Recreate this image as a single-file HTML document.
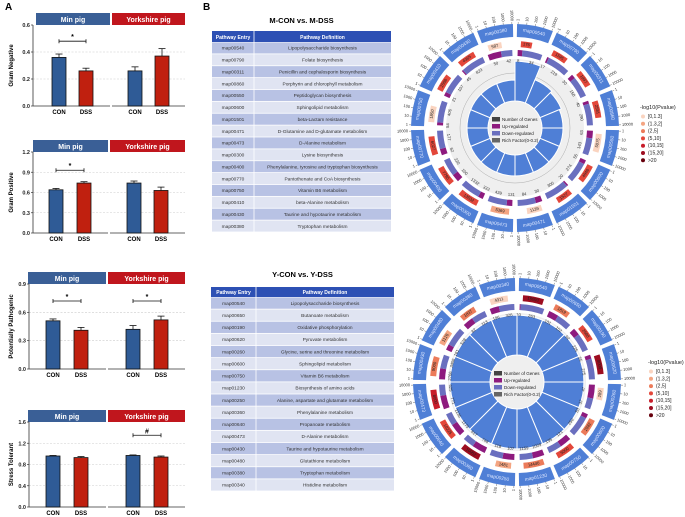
<!DOCTYPE html>
<html><head><meta charset="utf-8">
<style>
html,body{margin:0;padding:0;background:#fff;}
svg{display:block;font-family:"Liberation Sans",Arial,sans-serif;}
</style></head>
<body>
<svg id="fig" width="685" height="517" viewBox="0 0 685 517" xmlns="http://www.w3.org/2000/svg">
<text x="5" y="10" font-size="10" font-weight="bold">A</text>
<text x="203" y="10" font-size="10" font-weight="bold">B</text>
<g id="panelA"></g>
<g id="tables"></g>
<g id="circ1"></g>
<g id="circ2"></g>
</svg>
<script>
// ---------- Panel A data ----------
const barLabels = ["CON","DSS","CON","DSS"];
const gnMean = [0.36,0.26,0.26,0.37];
const gnErr  = [0.025,0.02,0.03,0.055];
const gpMean = [0.64,0.74,0.74,0.63];
const gpErr  = [0.02,0.02,0.03,0.05];
const ppMean = [0.51,0.41,0.42,0.52];
const ppErr  = [0.02,0.03,0.04,0.04];
const stMean = [0.96,0.93,0.97,0.94];
const stErr  = [0.01,0.02,0.01,0.02];
const gnTicks = [0,0.2,0.4,0.6];
const gpTicks = [0,0.3,0.6,0.9,1.2];
const ppTicks = [0,0.3,0.6,0.9];
const stTicks = [0,0.4,0.8,1.2,1.6];
// ---------- Circos data ----------
const sectors1 = ["map00540","map00790","map00311","map00860","map00550","map00600","map01501","map00471","map00473","map00300","map00400","map00770","map00750","map00410","map00430","map00380"];
const rich1 = [0.19,0.12,0.11,0.10,0.10,0.10,0.10,0.10,0.10,0.10,0.10,0.10,0.10,0.10,0.10,0.10];
const up1   = [8,17,30,40,63,55,20,30,131,333,100,62,54,21,45,50];
const down1 = [34,219,150,290,143,274,300,84,439,1332,220,177,406,107,823,42];
const count1 = [176,1595,1997,2581,5075,4046,1527,1139,5369,13532,7795,6027,1850,2506,4365,587];
const plev1 = [3,3,3,3,0,3,3,0,1,3,3,3,0,3,3,0];
const sectors2 = ["map00540","map00650","map00190","map00620","map00260","map00600","map00750","map01230","map00250","map00360","map00640","map00473","map00430","map00480","map00380","map00340"];
const rich2 = [0.19,0.19,0.19,0.19,0.19,0.19,0.19,0.19,0.19,0.19,0.19,0.19,0.19,0.19,0.19,0.19];
const up2   = [10,101,92,55,47,53,121,1009,107,748,1173,771,2766,161,82,196];
const down2 = [263,152,226,275,37,250,135,1159,118,617,1135,625,3456,528,113,326];
const count2 = [15093,1819,2688,8000,289,2882,5000,14440,1481,10052,10225,8000,9000,1126,1837,4311];
const plev2 = [5,2,3,5,0,2,3,2,1,5,3,4,2,1,2,0];
const legendLabels = ["[0,1.3]","(1.3,2]","(2,5]","(5,10]","(10,15]","(15,20]",">20"];
const pColors = ["#fad4c0","#f4a582","#ec7b5a","#e3473a","#c81d2a","#9d0d20","#67000d"];

const NS="http://www.w3.org/2000/svg";
function mk(parent,tag,attrs,text){const e=document.createElementNS(NS,tag);for(const k in attrs)e.setAttribute(k,attrs[k]);if(text!==undefined)e.textContent=text;parent.appendChild(e);return e;}

// ---------- Panel A ----------
const A=document.getElementById('panelA');
function barChart(cfg){
  const g=mk(A,'g',{});
  
  
  const max=cfg.ticks[cfg.ticks.length-1];
  const y=v=>cfg.y0-(v/max)*(cfg.y0-cfg.y1);
  // headers
  const h1=mk(g,'rect',{x:cfg.hx[0],y:cfg.y1-12,width:cfg.hx[1]-cfg.hx[0],height:12,fill:'#3a5f96'});
  
  
  mk(g,'text',{x:(cfg.hx[0]+cfg.hx[1])/2,y:cfg.y1-3,'font-size':7,'font-weight':'bold',fill:'#fff','text-anchor':'middle'},'Min pig');
  const h2=mk(g,'rect',{x:cfg.hx[2],y:cfg.y1-12,width:cfg.hx[3]-cfg.hx[2],height:12,fill:'#c0161d'});
  
  
  mk(g,'text',{x:(cfg.hx[2]+cfg.hx[3])/2,y:cfg.y1-3,'font-size':7,'font-weight':'bold',fill:'#fff','text-anchor':'middle'},'Yorkshire pig');
  // grid
  cfg.ticks.forEach((t,i)=>{
    if(i>0&&i<cfg.ticks.length-1) mk(g,'line',{x1:cfg.ax,x2:cfg.hx[3],y1:y(t),y2:y(t),stroke:'#ccc','stroke-width':0.6,'stroke-dasharray':'2,1.5'});
    mk(g,'line',{x1:cfg.ax-2,x2:cfg.ax,y1:y(t),y2:y(t),stroke:'#333','stroke-width':0.7});
    const tl=mk(g,'text',{x:cfg.ax-3,y:y(t)+2,'font-size':5.5,'font-weight':'bold','text-anchor':'end',fill:'#222'},t.toFixed(1));
    
    
  });
  mk(g,'line',{x1:cfg.ax,x2:cfg.ax,y1:cfg.y1,y2:cfg.y0,stroke:'#333','stroke-width':0.8});
  mk(g,'line',{x1:cfg.ax,x2:cfg.hx[1],y1:cfg.y0,y2:cfg.y0,stroke:'#333','stroke-width':0.8});
  mk(g,'line',{x1:cfg.hx[2],x2:cfg.hx[3],y1:cfg.y0,y2:cfg.y0,stroke:'#333','stroke-width':0.8});
  const yl=mk(g,'text',{x:0,y:0,'font-size':6,'font-weight':'bold','text-anchor':'middle',transform:`translate(13,${(cfg.y0+cfg.y1)/2}) rotate(-90)`},cfg.title);
  
  
  cfg.mean.forEach((m,i)=>{
    const cx=cfg.bx[i];
    const b=mk(g,'rect',{x:cx-7,y:y(m),width:14,height:cfg.y0-y(m),fill:i%2?'#c0200f':'#2f5b96',stroke:'#111','stroke-width':0.8});
    
    
    const te=y(m+cfg.err[i]);
    mk(g,'line',{x1:cx,x2:cx,y1:y(m),y2:te,stroke:'#111','stroke-width':0.8});
    mk(g,'line',{x1:cx-3.5,x2:cx+3.5,y1:te,y2:te,stroke:'#111','stroke-width':0.8});
    const xl=mk(g,'text',{x:cx,y:cfg.y0+8,'font-size':6,'font-weight':'bold','text-anchor':'middle'},barLabels[i]);
    
    
  });
  cfg.sig.forEach(s=>{
    const yy=y(s.v), x1=cfg.bx[s.i], x2=cfg.bx[s.i+1];
    mk(g,'line',{x1,x2,y1:yy,y2:yy,stroke:'#111','stroke-width':0.8});
    mk(g,'line',{x1,x2:x1,y1:yy-2,y2:yy+2,stroke:'#111','stroke-width':0.8});
    mk(g,'line',{x1:x2,x2,y1:yy-2,y2:yy+2,stroke:'#111','stroke-width':0.8});
    const st=mk(g,'text',{x:(x1+x2)/2,y:yy-2,'font-size':7,'font-weight':'bold','text-anchor':'middle'},s.t);
    
    
  });
}
barChart({name:'gram-negative-chart',title:'Gram Negative',mean:gnMean,err:gnErr,ticks:gnTicks,y0:106,y1:25,ax:33,hx:[36,110,112,185],bx:[59,86,135,162],sig:[{i:0,v:0.48,t:'*'}]});
barChart({name:'gram-positive-chart',title:'Gram Positive',mean:gpMean,err:gpErr,ticks:gpTicks,y0:233,y1:152,ax:33,hx:[33,108,110,185],bx:[56,84,134,161],sig:[{i:0,v:0.93,t:'*'}]});
barChart({name:'pathogenic-chart',title:'Potentially Pathogenic',mean:ppMean,err:ppErr,ticks:ppTicks,y0:369,y1:284,ax:29,hx:[28,106,108,185],bx:[53,81,133,161],sig:[{i:0,v:0.72,t:'*'},{i:2,v:0.72,t:'*'}]});
barChart({name:'stress-tolerant-chart',title:'Stress Tolerant',mean:stMean,err:stErr,ticks:stTicks,y0:507,y1:422,ax:29,hx:[28,106,108,185],bx:[53,81,133,161],sig:[{i:2,v:1.35,t:'#'}]});

// ---------- Tables ----------
const defs1=["Lipopolysaccharide biosynthesis","Folate biosynthesis","Penicillin and cephalosporin biosynthesis","Porphyrin and chlorophyll metabolism","Peptidoglycan biosynthesis","Sphingolipid metabolism","beta-Lactam resistance","D-Glutamine and D-glutamate metabolism","D-Alanine metabolism","Lysine biosynthesis","Phenylalanine, tyrosine and tryptophan biosynthesis","Pantothenate and CoA biosynthesis","Vitamin B6 metabolism","beta-Alanine metabolism","Taurine and hypotaurine metabolism","Tryptophan metabolism"];
const defs2=["Lipopolysaccharide biosynthesis","Butanoate metabolism","Oxidative phosphorylation","Pyruvate metabolism","Glycine, serine and threonine metabolism","Sphingolipid metabolism","Vitamin B6 metabolism","Biosynthesis of amino acids","Alanine, aspartate and glutamate metabolism","Phenylalanine metabolism","Propanoate metabolism","D-Alanine metabolism","Taurine and hypotaurine metabolism","Glutathione metabolism","Tryptophan metabolism","Histidine metabolism"];
const T=document.getElementById('tables');
function table(title,ty,x0,xs,x1,hy0,hy1,yEnd,ids,defs,nm){
  const g=mk(T,'g',{});
  
  
  mk(g,'text',{x:(x0+x1)/2,y:ty,'font-size':7.5,'font-weight':'bold','text-anchor':'middle'},title);
  mk(g,'rect',{x:x0,y:hy0,width:x1-x0,height:hy1-hy0,fill:'#2d50b4'});
  mk(g,'line',{x1:xs,x2:xs,y1:hy0,y2:hy1,stroke:'#fff','stroke-width':0.8});
  mk(g,'text',{x:(x0+xs)/2,y:hy1-3,'font-size':5,'font-weight':'bold',fill:'#fff','text-anchor':'middle'},'Pathway Entry');
  mk(g,'text',{x:(xs+x1)/2,y:hy1-3,'font-size':5,'font-weight':'bold',fill:'#fff','text-anchor':'middle'},'Pathway Definition');
  const rh=(yEnd-hy1)/ids.length;
  ids.forEach((id,i)=>{
    const y=hy1+i*rh;
    const r=mk(g,'rect',{x:x0,y:y+0.4,width:x1-x0,height:rh-0.8,fill:i%2?'#e0e4f2':'#b8c2e4'});
    
    
    mk(g,'line',{x1:xs,x2:xs,y1:y,y2:y+rh,stroke:'#fff','stroke-width':0.8});
    mk(g,'text',{x:(x0+xs)/2,y:y+rh/2+1.8,'font-size':4.8,fill:'#333','text-anchor':'middle'},id);
    mk(g,'text',{x:(xs+x1)/2,y:y+rh/2+1.8,'font-size':4.8,fill:'#333','text-anchor':'middle'},defs[i]);
  });
}
table('M-CON vs. M-DSS',23,212,254,391,31,42,232,sectors1,defs1,'table-m');
table('Y-CON vs. Y-DSS',277,211,256,394,287,297,491,sectors2,defs2,'table-y');

// ---------- Circos ----------
function pol(cx,cy,r,a){return [cx+r*Math.sin(a),cy-r*Math.cos(a)];}
function arc(cx,cy,r0,r1,a0,a1){
  const p=(r,a)=>pol(cx,cy,r,a).map(v=>v.toFixed(2)).join(',');
  const lg=(a1-a0)>Math.PI?1:0;
  return `M${p(r1,a0)}A${r1},${r1} 0 ${lg} 1 ${p(r1,a1)}L${p(r0,a1)}A${r0},${r0} 0 ${lg} 0 ${p(r0,a0)}Z`;
}
function circos(gid,cx,cy,ids,rich,up,down,count,plev,lx,ly){
  const g=document.getElementById(gid);
  const n=ids.length, step=2*Math.PI/n, gap=0.035;
  const rIn=27,rGrey=69;
  mk(g,'path',{d:arc(cx,cy,rIn,rGrey,0,2*Math.PI-0.0001),fill:'#efefef'});
  [40,55].forEach(r=>mk(g,'circle',{cx,cy,r,fill:'none',stroke:'#999','stroke-width':0.4}));
  const rScale=v=>rIn+(v/0.2)*(rGrey-rIn);
  for(let i=0;i<n;i++){
    const a0=i*step,a1=(i+1)*step;
    const bar=mk(g,'path',{d:arc(cx,cy,rIn,rScale(rich[i]),a0,a1),fill:'#4f7fd6',stroke:'#fff','stroke-width':1});
    
    
    // up/down ring
    const tot=up[i]+down[i], am=a0+gap+(a1-a0-2*gap)*up[i]/tot;
    const ub=mk(g,'path',{d:arc(cx,cy,72,78,a0+gap,am),fill:'#8e1a7e'});
    
    
    const db=mk(g,'path',{d:arc(cx,cy,72,78,am,a1-gap),fill:'#6a6fbf'});
    
    
    // numbers
    [[up[i],(a0+am)/2],[down[i],(am+a1)/2]].forEach(([v,a])=>{
      const [x,y]=pol(cx,cy,67,a);
      let deg=a*180/Math.PI; if(deg>90&&deg<270) deg-=180;
      mk(g,'text',{x,y,'font-size':4.2,'text-anchor':'middle','dominant-baseline':'middle',fill:'#333',transform:`rotate(${deg} ${x} ${y})`},v);
    });
    // pvalue ring
    const frac=Math.min(1,Math.log10(count[i])/4.3);
    const pb=mk(g,'path',{d:arc(cx,cy,81,87,a0+gap*2,a0+gap*2+(a1-a0-4*gap)*frac),fill:pColors[plev[i]]});
    
    
    {const a=a0+gap*2+(a1-a0-4*gap)*frac/2;const [x,y]=pol(cx,cy,84,a);let deg=a*180/Math.PI-90; if(a>Math.PI) deg+=180; deg=a*180/Math.PI; if(deg>90&&deg<270) deg-=180;
      mk(g,'text',{x,y,'font-size':4.2,'text-anchor':'middle','dominant-baseline':'middle',fill:'#222',transform:`rotate(${deg} ${x} ${y})`},count[i]);}
    // label ring
    const lb=mk(g,'path',{d:arc(cx,cy,91,104,a0+0.02,a1-0.02),fill:'#4f7fd6'});
    
    
    {const a=(a0+a1)/2;const [x,y]=pol(cx,cy,97.5,a);let deg=a*180/Math.PI; if(deg>90&&deg<270) deg-=180;
      mk(g,'text',{x,y,'font-size':4.8,'text-anchor':'middle','dominant-baseline':'middle',fill:'#dfe8ff',transform:`rotate(${deg} ${x} ${y})`},ids[i]);}
    // ticks
    ["1","10","100","1000","10000"].forEach((t,k)=>{
      const a=a0+0.03+k*(a1-a0-0.06)/4;
      const [x1,y1]=pol(cx,cy,104,a),[x2,y2]=pol(cx,cy,106,a);
      mk(g,'line',{x1,y1,x2,y2,stroke:'#444','stroke-width':0.4});
      const [x,y]=pol(cx,cy,107,a);
      let deg=a*180/Math.PI-90, anchor='start';
      if(a>Math.PI){deg+=180;anchor='end';}
      mk(g,'text',{x,y,'font-size':4,'text-anchor':anchor,'dominant-baseline':'middle',fill:'#333',transform:`rotate(${deg} ${x} ${y})`},t);
    });
  }
  // center legend
  const cl=[['#444','Number of Genes'],['#8e1a7e','Up-regulated'],['#6a6fbf','Down-regulated'],['#666','Rich Factor(0-0.2)']];
  cl.forEach((c,k)=>{
    const y=cy-11+k*7;
    mk(g,'rect',{x:cx-23,y,width:8,height:4.5,fill:c[0]});
    const lt=mk(g,'text',{x:cx-13,y:y+4,'font-size':4.5,fill:'#222'},c[1]);
    
    
  });
  // right legend
  mk(g,'text',{x:lx,y:ly,'font-size':5.5,fill:'#222'},'-log10(Pvalue)');
  legendLabels.forEach((l,k)=>{
    const y=ly+9+k*7.3;
    const d=mk(g,'circle',{cx:lx+3,cy:y-1.5,r:2,fill:pColors[k]});
    
    
    const t=mk(g,'text',{x:lx+8,y:y,'font-size':5,fill:'#222'},l);
    
    
  });
}
circos('circ1',515,128,sectors1,rich1,up1,down1,count1,plev1,640,109);
circos('circ2',517,382,sectors2,rich2,up2,down2,count2,plev2,648,364);
</script>
</body></html>
